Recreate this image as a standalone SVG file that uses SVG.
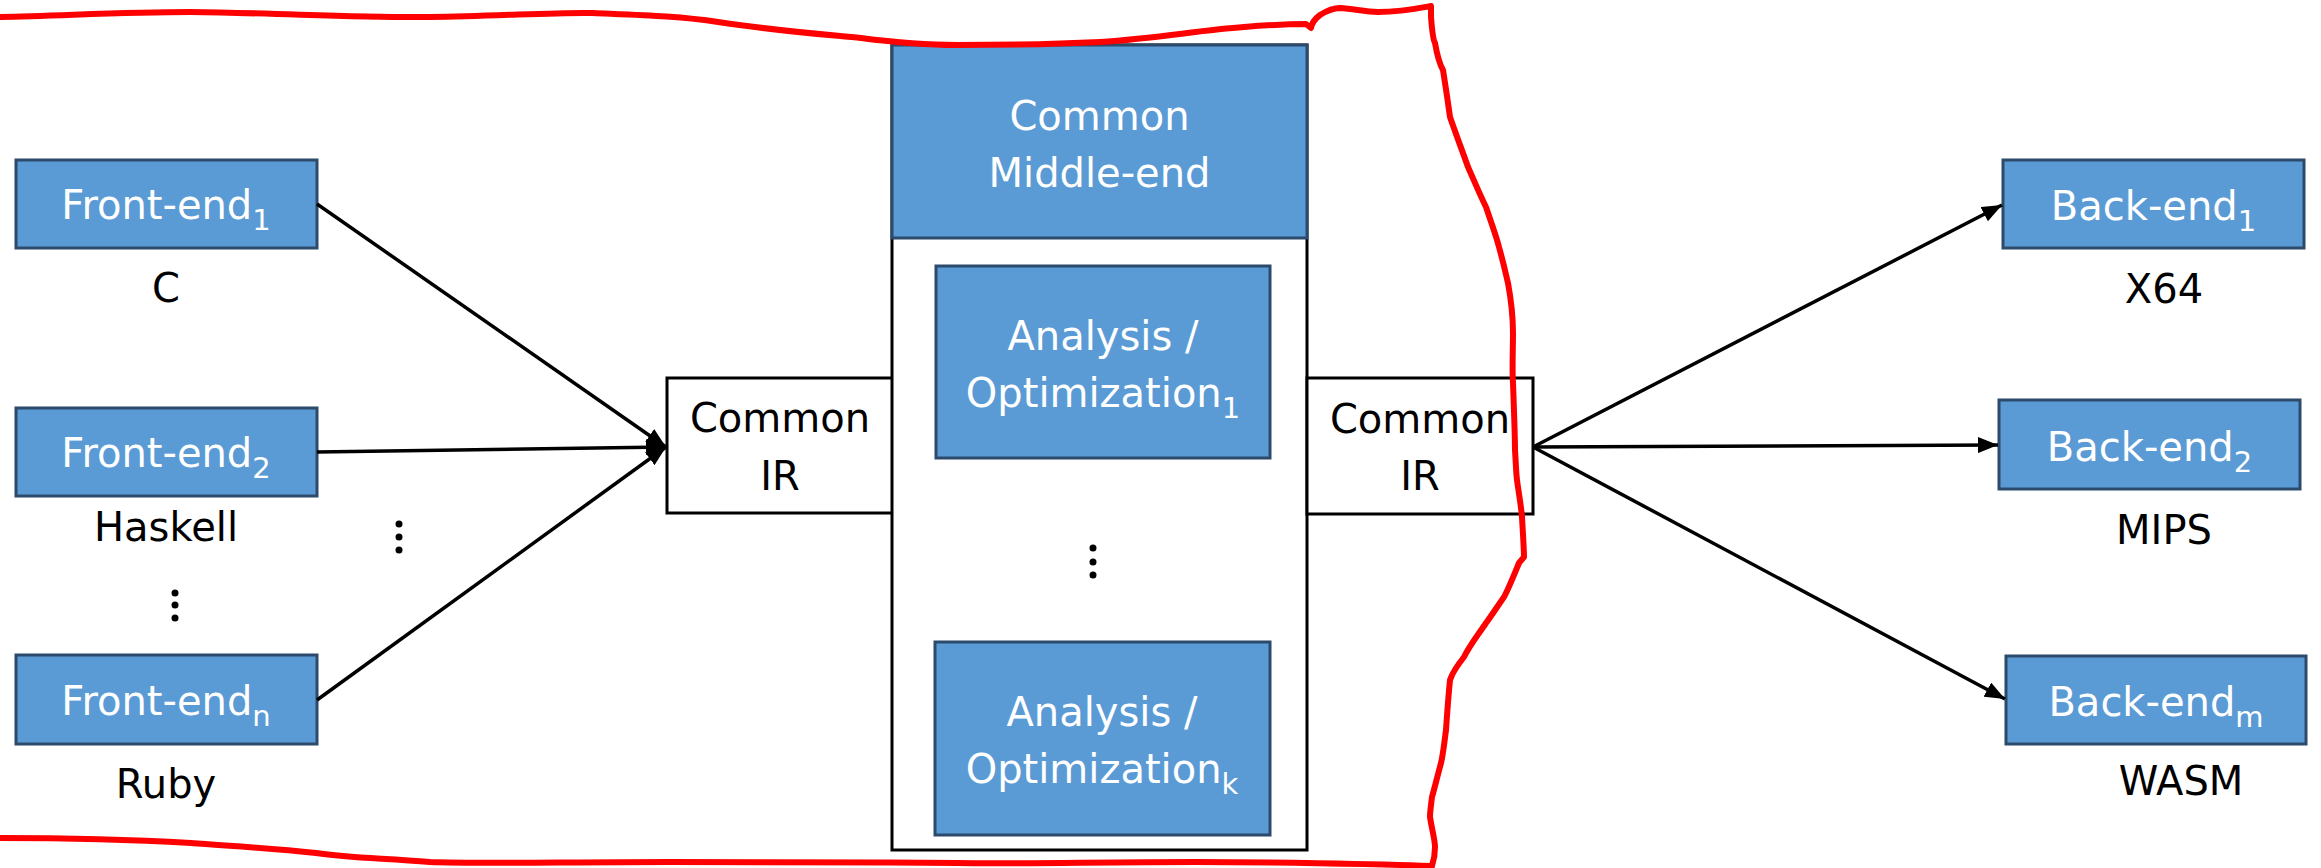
<svg xmlns="http://www.w3.org/2000/svg" width="2321" height="868" viewBox="0 0 2321 868">
<style>
.blue{fill:#5B9BD5;stroke:#2C4A6B;stroke-width:3}
.white{fill:#FFFFFF;stroke:#000000;stroke-width:3}
.wt{font-family:"DejaVu Sans","Liberation Sans",sans-serif;font-size:40px;fill:#FFFFFF;text-anchor:middle}
.bt{font-family:"DejaVu Sans","Liberation Sans",sans-serif;font-size:40px;fill:#000000;text-anchor:middle}
.sub{font-size:29px}
.conn{stroke:#000000;stroke-width:3.5;fill:none;marker-end:url(#arr)}
.dot{fill:#000000}
</style>
<defs>
<marker id="arr" markerUnits="userSpaceOnUse" markerWidth="22" markerHeight="16" refX="20" refY="8" orient="auto">
<path d="M0,0 L20,8 L0,16 z" fill="#000000"/>
</marker>
</defs>
<rect width="2321" height="868" fill="#FFFFFF"/>

<g id="fe1"><rect class="blue" x="16" y="160" width="301" height="88"/><text class="wt" x="166" y="219">Front-end<tspan class="sub" dy="11">1</tspan></text></g>
<g id="fe2"><rect class="blue" x="16" y="408" width="301" height="88"/><text class="wt" x="166" y="467">Front-end<tspan class="sub" dy="11">2</tspan></text></g>
<g id="fen"><rect class="blue" x="16" y="655" width="301" height="89"/><text class="wt" x="166" y="715">Front-end<tspan class="sub" dy="11">n</tspan></text></g>
<g id="lbl-c"><text class="bt" x="166" y="302">C</text></g>
<g id="lbl-haskell"><text class="bt" x="166" y="541">Haskell</text></g>
<g id="lbl-ruby"><text class="bt" x="166" y="798">Ruby</text></g>
<g id="dots-left"><circle class="dot" cx="175" cy="593" r="3.5"/><circle class="dot" cx="175" cy="605" r="3.5"/><circle class="dot" cx="175" cy="618" r="3.5"/></g>
<g id="dots-arrows"><circle class="dot" cx="399" cy="524" r="3.5"/><circle class="dot" cx="399" cy="537" r="3.5"/><circle class="dot" cx="399" cy="550" r="3.5"/></g>

<g id="ir-left"><rect class="white" x="667" y="378" width="226" height="135"/><text class="bt" x="780" y="432">Common</text><text class="bt" x="780" y="490">IR</text></g>

<g id="middle-end">
<rect class="white" x="892" y="45" width="415" height="805"/>
<rect class="blue" x="892" y="45" width="415" height="193"/>
<text class="wt" x="1099.5" y="130">Common</text>
<text class="wt" x="1099.5" y="187">Middle-end</text>
</g>
<g id="opt1"><rect class="blue" x="936" y="266" width="334" height="192"/><text class="wt" x="1103" y="350">Analysis /</text><text class="wt" x="1103" y="407">Optimization<tspan class="sub" dy="11">1</tspan></text></g>
<g id="dots-mid"><circle class="dot" cx="1093" cy="548" r="3.5"/><circle class="dot" cx="1093" cy="562" r="3.5"/><circle class="dot" cx="1093" cy="575" r="3.5"/></g>
<g id="optk"><rect class="blue" x="935" y="642" width="335" height="193"/><text class="wt" x="1102" y="726">Analysis /</text><text class="wt" x="1102" y="783">Optimization<tspan class="sub" dy="11">k</tspan></text></g>

<g id="ir-right"><rect class="white" x="1307" y="378" width="226" height="136"/><text class="bt" x="1420" y="433">Common</text><text class="bt" x="1420" y="490">IR</text></g>

<g id="be1"><rect class="blue" x="2003" y="160" width="301" height="88"/><text class="wt" x="2153.5" y="220">Back-end<tspan class="sub" dy="11">1</tspan></text></g>
<g id="be2"><rect class="blue" x="1999" y="400" width="301" height="89"/><text class="wt" x="2149.5" y="461">Back-end<tspan class="sub" dy="11">2</tspan></text></g>
<g id="bem"><rect class="blue" x="2006" y="656" width="300" height="88"/><text class="wt" x="2156" y="716">Back-end<tspan class="sub" dy="11">m</tspan></text></g>
<g id="lbl-x64"><text class="bt" x="2164" y="303">X64</text></g>
<g id="lbl-mips"><text class="bt" x="2164" y="544">MIPS</text></g>
<g id="lbl-wasm"><text class="bt" x="2181" y="795">WASM</text></g>

<g id="connectors">
<line class="conn" x1="317" y1="204" x2="666" y2="447"/>
<line class="conn" x1="317" y1="452" x2="666" y2="447"/>
<line class="conn" x1="317" y1="700" x2="666" y2="447"/>
<line class="conn" x1="1533" y1="447" x2="2002" y2="205"/>
<line class="conn" x1="1533" y1="447" x2="1998" y2="445"/>
<line class="conn" x1="1533" y1="447" x2="2005" y2="699"/>
</g>

<g id="red-outline">
<path d="M0,17 C60,16 120,12 191,12 C280,13 360,18 430,17 C500,16 560,12 593,13 C640,15 680,16 718,22 C770,30 820,34 861,38 C900,43 930,45 957,45 C1020,45 1060,44 1100,42 C1160,38 1200,30 1244,27 C1270,25 1290,24 1306,24 L1311,28 C1312,22 1316,18 1320,15 C1328,10 1334,8 1340,8 C1355,9 1365,12 1378,12 C1400,12 1415,9 1431,6 C1431,12 1431,17 1431,17 C1432,30 1433,40 1435,43 C1438,60 1440,65 1443,70 C1447,95 1450,117 1450,117 C1458,140 1462,150 1468,167 C1476,185 1480,195 1486,207 C1492,225 1496,235 1499,247 C1504,265 1506,275 1508,283 C1512,305 1513,320 1513,333 C1513,350 1512,370 1513,383 C1514,410 1515,440 1515,450 C1516,465 1516,472 1517,480 C1519,495 1521,505 1522,517 C1523,535 1524,550 1524,557 L1519,563 C1512,580 1508,590 1504,597 C1497,607 1492,615 1486,623 C1478,635 1470,645 1464,657 C1456,667 1452,674 1450,680 C1448,700 1447,715 1446,730 C1444,745 1443,755 1441,763 C1437,778 1434,790 1432,797 C1431,805 1430,812 1430,817 C1432,830 1435,840 1435,847 C1435,855 1434,860 1432,866 C1380,864 1260,862 1196,862 C1100,862 1020,864 957,863 C860,862 760,862 670,862 C560,862 480,864 430,862 C380,858 350,858 316,853 C270,848 230,846 191,843 C120,839 60,838 0,838" fill="none" stroke="#FF0000" stroke-width="6" stroke-linejoin="round" stroke-linecap="round"/>
</g>
</svg>
